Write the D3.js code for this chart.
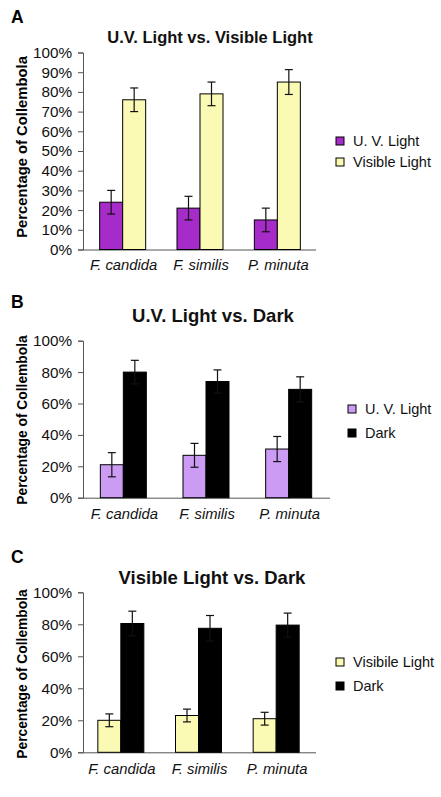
<!DOCTYPE html>
<html><head><meta charset="utf-8">
<script src="https://cdn.jsdelivr.net/npm/d3@7"></script>
<style>
body{margin:0;background:#fff;}
svg{display:block;font-family:Arial,"Liberation Sans",sans-serif;}
</style></head>
<body><svg id="c" width="441" height="797"></svg>
<script>
// ---- data ----
const categories = ["F. candida", "F. similis", "P. minuta"];

const seriesA = ["U. V. Light", "Visible Light"];
const valuesA_uv = [24, 21, 15];
const errorsA_uv = [6, 6, 6];
const valuesA_vis = [76, 79, 85];
const errorsA_vis = [6, 6, 6.3];
const ticksA = [0, 10, 20, 30, 40, 50, 60, 70, 80, 90, 100];

const seriesB = ["U. V. Light", "Dark"];
const valuesB_uv = [21, 27, 31];
const errorsB_uv = [7.7, 7.6, 8];
const valuesB_dark = [80, 74, 69];
const errorsB_dark = [7.5, 7.4, 8];
const ticksB = [0, 20, 40, 60, 80, 100];

const seriesC = ["Visibile Light", "Dark"];
const valuesC_vis = [20, 23, 21];
const errorsC_vis = [4, 4, 4];
const valuesC_dark = [80.5, 77.5, 79.5];
const errorsC_dark = [7.7, 8, 7.5];
const ticksC = [0, 20, 40, 60, 80, 100];

const titles = ["U.V. Light vs. Visible Light", "U.V. Light vs. Dark", "Visible Light vs. Dark"];
const letters = ["A", "B", "C"];
const yLabel = "Percentage of Collembola";

// ---- layout / style ----
const panels = [
  {letter: letters[0], title: titles[0], series: seriesA,
   vals: [valuesA_uv, valuesA_vis], errs: [errorsA_uv, errorsA_vis], ticks: ticksA,
   colors: ["#a52cc8", "#fafab4"],
   x0: 83, x1: 316, xr: [84, 316], y0: 249.5, y1: 52.5,
   letterY: 23, titleX: 210, titleY: 43, titleSize: 16.5,
   yLabY: 147, yLabSize: 14.8, xLabY: 270,
   legX: 336, legY: [141, 162]},
  {letter: letters[1], title: titles[1], series: seriesB,
   vals: [valuesB_uv, valuesB_dark], errs: [errorsB_uv, errorsB_dark], ticks: ticksB,
   colors: ["#cc9cf5", "#000000"],
   x0: 83, x1: 330, xr: [82, 330], y0: 497.7, y1: 340.7,
   letterY: 308, titleX: 213, titleY: 322, titleSize: 18.5,
   yLabY: 420, yLabSize: 13.8, xLabY: 519,
   legX: 348, legY: [409, 433]},
  {letter: letters[2], title: titles[2], series: seriesC,
   vals: [valuesC_vis, valuesC_dark], errs: [errorsC_vis, errorsC_dark], ticks: ticksC,
   colors: ["#fafab4", "#000000"],
   x0: 83, x1: 316, xr: [82, 315], y0: 752.3, y1: 592.3,
   letterY: 563, titleX: 212, titleY: 584, titleSize: 18.5,
   yLabY: 674, yLabSize: 13.8, xLabY: 774,
   legX: 336, legY: [662, 686]}
];

const svg = d3.select("#c");
const barW = 23;

panels.forEach(p => {
  const g = svg.append("g");
  const y = d3.scaleLinear().domain([0, 100]).range([p.y0, p.y1]);
  const x = d3.scaleBand().domain(categories).range(p.xr).padding(0);
  const xs = d3.scaleBand().domain(p.series);

  // panel letter
  g.append("text").attr("x", 11).attr("y", p.letterY)
    .attr("font-size", 17.5).attr("font-weight", "bold").text(p.letter);
  // title
  g.append("text").attr("x", p.titleX).attr("y", p.titleY).attr("text-anchor", "middle")
    .attr("font-size", p.titleSize).attr("font-weight", "bold").attr("fill", "#111").text(p.title);
  // y label
  g.append("text").attr("transform", `translate(27,${p.yLabY}) rotate(-90)`)
    .attr("text-anchor", "middle").attr("font-size", p.yLabSize).attr("font-weight", "bold")
    .text(yLabel);

  // y axis
  const yAxis = d3.axisLeft(y).tickValues(p.ticks).tickSize(5).tickPadding(6)
    .tickFormat(d => d + "%");
  const ya = g.append("g").attr("transform", `translate(${p.x0},0)`).call(yAxis);
  ya.select(".domain").attr("stroke", "#555");
  ya.selectAll(".tick line").attr("stroke", "#555");
  ya.selectAll(".tick text").attr("font-size", 15.3).attr("fill", "#111")
    .attr("font-family", "Arial, 'Liberation Sans', sans-serif");

  // x axis baseline
  const xAxis = d3.axisBottom(x).tickSize(0).tickPadding(0).tickFormat("");
  const xa = g.append("g").attr("transform", `translate(0,${p.y0})`).call(xAxis);
  xa.select(".domain").attr("stroke", "#555").attr("d", `M${p.x0},0.5H${p.x1}`);

  // bars
  categories.forEach((c, ci) => {
    const cx = x(c) + x.bandwidth() / 2;
    xs.range([cx - barW, cx + barW]);
    p.series.forEach((s, si) => {
      const v = p.vals[si][ci], e = p.errs[si][ci];
      const bx = xs(s);
      g.append("rect").attr("x", bx).attr("y", y(v))
        .attr("width", xs.bandwidth()).attr("height", y(0) - y(v))
        .attr("fill", p.colors[si]).attr("stroke", "#000").attr("stroke-width", 1);
      const mx = bx + xs.bandwidth() / 2;
      const eg = g.append("g").attr("stroke", "#111").attr("stroke-width", 1.2);
      eg.append("line").attr("x1", mx).attr("x2", mx).attr("y1", y(v + e)).attr("y2", y(v - e));
      eg.append("line").attr("x1", mx - 4).attr("x2", mx + 4).attr("y1", y(v + e)).attr("y2", y(v + e));
      eg.append("line").attr("x1", mx - 4).attr("x2", mx + 4).attr("y1", y(v - e)).attr("y2", y(v - e));
    });
    g.append("text").attr("x", cx + 1).attr("y", p.xLabY).attr("text-anchor", "middle")
      .attr("font-size", 14.8).attr("font-style", "italic").attr("fill", "#111").text(c);
  });

  // legend
  p.series.forEach((s, si) => {
    const ly = p.legY[si];
    g.append("rect").attr("x", p.legX).attr("y", ly - 4).attr("width", 8).attr("height", 8)
      .attr("fill", p.colors[si]).attr("stroke", "#000").attr("stroke-width", 1);
    g.append("text").attr("x", p.legX + 17).attr("y", ly + 5).attr("font-size", 14.5)
      .attr("fill", "#111").text(s);
  });
});
</script></body></html>
